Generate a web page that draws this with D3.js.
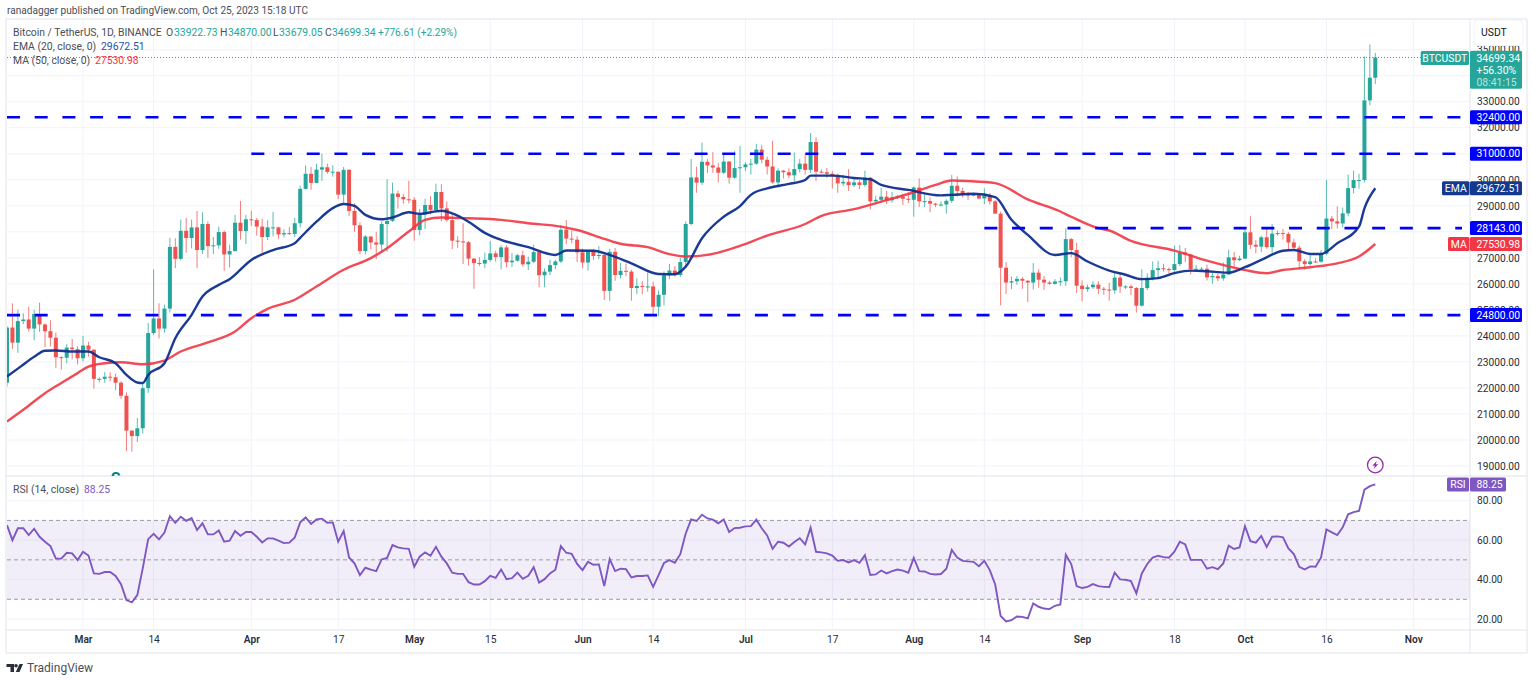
<!DOCTYPE html>
<html>
<head>
<meta charset="utf-8">
<script src="https://cdn.jsdelivr.net/npm/d3@7"></script>
<style>
html, body { margin: 0; background: #fff; overflow: hidden; }
svg { display: block; }
text { font-family: Roboto, sans-serif; font-size: 10.4px; fill: #131722; }
.axis text { font-family: Roboto, sans-serif; font-size: 10.2px; fill: #2a2e39; }
.axis .domain { display: none; }
.grid { stroke: #f0f3fa; stroke-width: 1; }
.frame { stroke: #e0e3eb; stroke-width: 1; }
</style>
</head>
<body>
<svg width="1531" height="680"></svg>
<script>
// daily candles, Feb 15 to Oct 25 2023, one line per month
var opens = [
22200,24320,23740,24570,24630,24280,24840,24440,24180,23930,23180,23160,23550,23490,
23140,23630,23470,22350,22350,22430,22410,22200,21700,20360,20150,20450,21990,24110,24670,24280,25050,27420,26960,28040,27760,28170,27300,28300,27450,27480,27990,27130,27260,28350,28030,
28480,28450,28200,27800,28170,28170,27900,27950,27920,28330,29650,30230,29880,30390,30480,30300,30310,29430,30380,28800,28250,27260,27820,27590,27510,28300,28420,29470,29340,29250,
29230,28070,28670,29030,28840,29530,28900,28450,27660,27630,27600,26970,26800,26780,26920,27170,27030,27400,26830,26890,27100,26750,26850,27220,26330,26470,26720,26860,28080,27740,27700,
27210,26820,27240,27070,27110,25730,27230,26340,26500,26470,25840,25920,25900,25900,25120,25580,26330,26510,26340,26840,28300,30090,29890,30690,30550,30470,30270,30700,30080,30450,
30480,30590,30620,31160,30770,30510,29900,30350,30290,30170,30410,30620,30380,31450,30310,30290,30230,30140,29860,29920,29790,29900,29800,30080,29170,29230,29350,29210,29320,29350,29270,
29230,29700,29170,29180,29080,29040,29050,29190,29770,29570,29430,29400,29420,29280,29410,29170,28700,26620,26050,26100,26190,26120,26050,26430,26160,26050,26000,26090,26100,27720,27300,
25930,25800,25870,25970,25810,25780,25750,26240,25900,25900,25840,25160,25840,26230,26530,26600,26570,26530,26760,27210,27130,26570,26580,26580,26250,26300,26210,26360,27020,26910,
26970,27980,27500,27430,27790,27410,27930,27950,27920,27590,27390,26870,26760,26860,26850,27150,28510,28400,28320,28710,29680,29990,29990,33050,33922.73];
var highs = [
24380,25250,25000,24870,25120,25000,25280,24470,24600,24130,23220,23680,23880,23600,
24000,23770,23480,22410,22610,22600,22550,22260,21830,20370,20840,22180,24500,26550,25250,25200,27770,27750,28470,28530,28470,28800,28750,28400,27800,28200,28040,27500,28650,29190,28650,
28800,28530,28500,28440,28770,28200,28100,28180,28530,29770,30550,30490,30620,31000,30620,30550,30320,30490,30410,29100,28370,27880,27820,28000,28400,30020,29890,29580,29460,29960,
29330,28880,29270,29370,29850,29830,29170,28670,27830,28330,27650,26990,27030,27200,27650,27280,27480,27480,27180,27150,27280,27050,27500,27220,26590,26930,26930,28260,28450,28050,27830,
27350,27300,27340,27450,27130,27350,27380,26800,26780,26540,26210,26100,26430,26080,25750,26480,26770,26680,27000,28400,30800,30500,31430,30800,31060,30650,31000,30710,31100,31300,
30670,30800,31380,31330,30890,31500,30440,30380,30440,31050,30800,30980,31800,31630,30400,30450,30340,30240,30190,30410,30050,29990,30350,30110,29380,29690,29570,29530,29410,29450,29530,
29750,30050,29430,29320,29110,29170,29250,30190,30130,29700,29530,29450,29470,29670,29490,29220,28780,26840,26280,26300,26260,26140,26800,26560,26300,26120,26180,26250,28140,27760,27580,
26130,25970,26100,26100,25880,26040,26440,26430,25950,25980,25880,26560,26400,26860,26890,26770,26630,27470,27490,27380,27160,26730,26640,26740,26450,26400,26820,27310,27230,27080,
28070,28600,27680,27850,28120,28300,28050,28110,27990,27730,27480,26950,27100,26980,27290,30000,28610,28980,28930,30200,30350,30230,34740,35200,34870];
var lows = [
22050,23500,23350,24450,24170,23830,24150,23570,23600,22770,22700,22950,23100,22900,
23020,23200,21970,22210,22200,22250,21920,21580,19570,19550,19920,20250,21810,24030,23900,24120,24900,26600,26900,27200,27360,26600,27150,27000,27150,27350,26500,26630,27240,27700,27530,
28220,27850,27200,27680,27830,27730,27780,27880,27800,28170,29620,29620,29860,29960,30230,30120,29260,29100,28600,28000,27130,27130,27330,26950,27200,27230,28380,28890,29080,29090,
27660,27870,28110,28670,28810,28400,28380,27330,27380,26760,26700,25810,26690,26600,26850,26850,26550,26630,26650,26850,26670,26530,26800,25870,25870,26330,26560,26800,27520,27560,26840,
26600,26510,26920,26950,25380,25350,26120,26200,26290,25350,25600,25600,25700,24800,24760,25170,26180,26280,26260,26650,28250,29500,29800,30260,30270,29900,30220,29850,30040,29500,
30320,30200,30570,30630,30200,29850,29700,30050,30050,29950,30280,30200,30260,29960,30250,30070,29660,29500,29760,29570,29720,29640,29730,28860,29060,29100,29070,29120,29260,29030,29110,
28580,28950,28950,28750,28950,28970,28700,29110,29350,29320,29230,29360,29250,29070,29050,28700,25170,25610,25800,25960,25810,25300,25780,25850,25770,25970,25970,25920,25920,27030,25650,
25330,25700,25800,25600,25580,25350,25620,25650,25800,25570,24900,25130,25760,26130,26220,26470,26400,26380,26680,26830,26360,26490,26520,26130,26000,26100,26120,26340,26660,26880,
26950,27340,27170,27220,27350,27170,27860,27700,27260,27300,26540,26550,26700,26810,26810,27110,28100,28130,28170,28600,29470,29660,29900,32860,33679.05];
var closes = [
24320,23740,24570,24630,24280,24840,24440,24180,23930,23180,23160,23550,23490,23140,
23630,23470,22350,22350,22430,22410,22200,21700,20360,20150,20450,21990,24110,24670,24280,25050,27420,26960,28040,27760,28170,27300,28300,27450,27480,27990,27130,27260,28350,28030,28480,
28450,28200,27800,28170,28170,27900,27950,27920,28330,29650,30230,29880,30390,30480,30300,30310,29430,30380,28800,28250,27260,27820,27590,27510,28300,28420,29470,29340,29250,29230,
28070,28670,29030,28840,29530,28900,28450,27660,27630,27600,26970,26800,26780,26920,27170,27030,27400,26830,26890,27100,26750,26850,27220,26330,26470,26720,26860,28080,27740,27700,27210,
26820,27240,27070,27110,25730,27230,26340,26500,26470,25840,25920,25900,25900,25120,25580,26330,26510,26340,26840,28300,30090,29890,30690,30550,30470,30270,30700,30080,30450,30480,
30590,30620,31160,30770,30510,29900,30350,30290,30170,30410,30620,30380,31450,30310,30290,30230,30140,29860,29920,29790,29900,29800,30080,29170,29230,29350,29210,29320,29350,29270,29230,
29700,29170,29180,29080,29040,29050,29190,29770,29570,29430,29400,29420,29280,29410,29170,28700,26620,26050,26100,26190,26120,26050,26430,26160,26050,26000,26090,26100,27720,27300,25930,
25800,25870,25970,25810,25780,25750,26240,25900,25900,25840,25160,25840,26230,26530,26600,26570,26530,26760,27210,27130,26570,26580,26580,26250,26300,26210,26360,27020,26910,26970,
27980,27500,27430,27790,27410,27930,27950,27920,27590,27390,26870,26760,26860,26850,27150,28510,28400,28320,28710,29680,29990,29990,33050,33922.73,34699.34];

// moving averages: day number since Feb 15, then price
var emaDays = [0,2.5,5,7,9,12,15,17,20,22,24,25,26,29,31,34,36,39,41,45,49,53,54,57,60,62,64,66,69,71,74,76,80,82,85,88,91,96,101,103,108,111,115,120,123,125,128,132,135,137,140,144,147,148,152,156,159,161,166,172,174,178,182,185,188,193,196,199,203,206,209,212,215,218,222,225,228,231,235,237,240,242,245,249,250,252];
var emaValues = [22440,22820,23200,23430,23440,23400,23400,23180,22950,22500,22210,22190,22500,22950,23910,24810,25510,25960,26180,26920,27300,27560,27770,28390,28910,29070,29000,28650,28480,28550,28750,28690,28810,28710,28390,27960,27690,27410,27110,27280,27270,27110,26790,26380,26370,26660,27750,28580,28990,29420,29670,29840,29990,30160,30160,30070,30020,29800,29610,29400,29420,29460,29330,28460,27880,27110,27180,26860,26510,26350,26180,26220,26410,26510,26470,26430,26640,26920,27270,27300,27150,27150,27560,28200,28900,29672.51];
var maDays = [0,3,7,10,13,15,18,21,25,29,32,37,42,45,48,53,57,62,67,70,74,77,80,85,91,96,102,105,110,113,118,122,125,131,135,140,147,150,156,161,167,171,174,177,182,188,194,196,201,203,207,215,221,228,232,235,240,245,249,252];
var maValues = [20710,21160,21800,22190,22570,22820,22950,22990,22910,23050,23400,23750,24170,24680,25040,25390,25900,26540,26990,27370,28010,28460,28550,28520,28460,28330,28200,28070,27730,27540,27410,27140,27050,27200,27460,27850,28300,28610,28870,29160,29520,29800,29970,29950,29870,29250,28780,28580,28140,28050,27650,27280,26890,26530,26410,26530,26640,26790,27050,27530.98];

// RSI(14), one value a day
var rsiValues = [
67.6,60,66,66.1,62.6,65.8,61.7,59.2,57,50.6,50.6,53.6,53.3,49.9,
54.1,52.2,43.1,42.9,43.8,43.8,41.8,37.7,29.6,28.4,32.1,45.7,60.5,63.2,60.4,63.8,72.2,68.8,71.9,69.8,71.2,65.1,68.5,62.9,62.9,64.9,59.2,59.7,64.6,62.2,64.1,
64.1,61.7,58.8,60.9,60.9,59.7,58.5,58.7,61.4,69,71.5,68.2,70.5,70.9,68.8,69,59.2,64.6,51.2,48.2,42.3,46,45,44.3,50.2,51,57.5,56.3,55.8,55.6,
46.5,51.6,53.8,52.1,56.6,51.6,48.2,43.5,42.9,42.9,38.7,37.5,37.5,39.2,41.9,40.9,45.1,40.2,40.7,43.5,40.4,41.9,46.3,38.5,40.2,43.1,45,57,53.6,53.1,47.9,
44.8,49,47.5,47.7,36.7,50.4,44.3,45.5,45.3,41.1,41.8,41.8,42.1,36.3,42.3,48.4,49.9,48.5,52.9,63.4,70.5,69.7,72.9,71,70.4,68.5,70.5,64.1,66.1,66.3,
67,67.1,70.4,66,62.4,55.6,59.2,58.7,56.8,59,61,57.8,66.3,54.1,53.8,53.3,52.2,49.5,49.9,48.7,49.9,48.5,52.4,42.3,42.6,44.6,43.1,44.3,45.1,44.5,43.5,
51,44.3,44.1,42.9,42.6,42.8,45.5,55,51.2,49.5,49.2,49,46.8,49.5,44.8,37.5,21.5,18.8,19.4,21.3,21.1,20.3,27.9,26.2,25.3,25,26.7,27.4,52.6,47.9,36.7,
35.7,36.3,37.7,36.7,36.3,36.2,43.5,40.1,39.9,39.2,33,43.1,47.9,51.1,52.1,51.4,51.1,54.1,59.2,57.8,50,50,50,45.5,46.3,45.3,48.2,57.2,55.5,56.3,
67.1,59.5,58.7,62.1,56.6,61.7,61.9,61.4,55.8,52.9,46.5,45.1,46.7,46.5,51.1,65.4,63.9,62.6,66.5,73.1,74.2,74.8,85.6,87.4,88.25];

// horizontal levels drawn by the author: price, first day
var levelPrices = [32400, 31000, 28143, 24800];
var levelStarts = ["2023-02-15", "2023-04-01", "2023-08-14", "2023-02-15"];

var priceTicks = [35000,34000,33000,32000,31000,30000,29000,28000,27000,26000,25000,24000,23000,22000,21000,20000,19000];
// 34000, 31000 and 28000 sit fully behind tags
var priceLabels = [35000,33000,32000,30000,29000,27000,26000,25000,24000,23000,22000,21000,20000,19000];
var rsiTicks = [80, 60, 40, 20];
var rsiLevels = [70, 50, 30];
var timeTicks = ["2023-03-01","2023-03-14","2023-04-01","2023-04-17","2023-05-01","2023-05-15","2023-06-01","2023-06-14","2023-07-01","2023-07-17","2023-08-01","2023-08-14","2023-09-01","2023-09-18","2023-10-01","2023-10-16","2023-11-01"].map(function(d) { return new Date(d); });

var upColor = "#26a69a", downColor = "#ef5350", emaColor = "#0f2f8f", maColor = "#f23645", rsiColor = "#7e57c2", levelColor = "#0000ff";
var plotLeft = 7, plotRight = 1470, plotTop = 19, paneSplit = 476, plotBottom = 630, outerRight = 1527, outerBottom = 653;

var svg = d3.select("svg");
var startDate = new Date("2023-02-15");
var dates = closes.map(function(c, i) { return d3.utcDay.offset(startDate, i); });

var x = d3.scaleUtc().domain([startDate, new Date("2023-11-01")]).range([7, 1413.3]);
var y = d3.scaleLinear().domain([19000, 33000]).range([466, 101.7]);
var yRsi = d3.scaleLinear().domain([20, 80]).range([619, 500.7]);
function xDay(n) { return x(d3.utcHour.offset(startDate, n * 24)); }

var defs = svg.append("defs");
defs.append("clipPath").attr("id", "pricePane").append("rect")
    .attr("x", plotLeft).attr("y", plotTop).attr("width", plotRight - plotLeft).attr("height", paneSplit - plotTop);
defs.append("clipPath").attr("id", "rsiPane").append("rect")
    .attr("x", plotLeft).attr("y", paneSplit).attr("width", plotRight - plotLeft).attr("height", plotBottom - paneSplit);

// grid
var grid = svg.append("g");
grid.selectAll(".v").data(timeTicks).enter().append("line").attr("class", "grid")
    .attr("x1", function(d) { return x(d); }).attr("x2", function(d) { return x(d); })
    .attr("y1", plotTop).attr("y2", plotBottom);
grid.selectAll(".h").data(priceTicks).enter().append("line").attr("class", "grid")
    .attr("x1", plotLeft).attr("x2", plotRight)
    .attr("y1", function(d) { return y(d); }).attr("y2", function(d) { return y(d); });
grid.selectAll(".r").data(rsiTicks).enter().append("line").attr("class", "grid")
    .attr("x1", plotLeft).attr("x2", plotRight)
    .attr("y1", function(d) { return yRsi(d); }).attr("y2", function(d) { return yRsi(d); });

// frame
var frame = [[6, plotTop, outerRight, plotTop], [6, outerBottom, outerRight, outerBottom], [6, plotTop, 6, outerBottom],
    [outerRight, plotTop, outerRight, outerBottom], [plotRight, plotTop, plotRight, outerBottom], [6, paneSplit, outerRight, paneSplit], [6, plotBottom, outerRight, plotBottom]];
svg.append("g").selectAll("line").data(frame).enter().append("line").attr("class", "frame")
    .attr("x1", function(d) { return d[0]; }).attr("y1", function(d) { return d[1]; })
    .attr("x2", function(d) { return d[2]; }).attr("y2", function(d) { return d[3]; });

// price pane
var pricePane = svg.append("g").attr("clip-path", "url(#pricePane)");

pricePane.append("line")
    .attr("x1", plotLeft).attr("x2", plotRight)
    .attr("y1", y(closes[closes.length - 1])).attr("y2", y(closes[closes.length - 1]))
    .attr("stroke", upColor).attr("stroke-width", 1).attr("stroke-dasharray", "1 2");

var candles = pricePane.append("g").selectAll("g").data(dates).enter().append("g");
function candleColor(d, i) { return closes[i] >= opens[i] ? upColor : downColor; }
candles.append("line")
    .attr("x1", function(d) { return x(d); }).attr("x2", function(d) { return x(d); })
    .attr("y1", function(d, i) { return y(highs[i]); }).attr("y2", function(d, i) { return y(lows[i]); })
    .attr("stroke", candleColor).attr("stroke-width", 1).attr("opacity", 0.75);
candles.append("rect")
    .attr("x", function(d) { return x(d) - 2; }).attr("width", 4)
    .attr("y", function(d, i) { return y(Math.max(opens[i], closes[i])); })
    .attr("height", function(d, i) { return Math.max(1, Math.abs(y(opens[i]) - y(closes[i]))); })
    .attr("fill", candleColor);

var priceLine = d3.line().curve(d3.curveMonotoneX)
    .x(function(d) { return xDay(d[0]); }).y(function(d) { return y(d[1]); });
pricePane.append("path").attr("d", priceLine(d3.zip(maDays, maValues)))
    .attr("fill", "none").attr("stroke", maColor).attr("stroke-width", 2.4).attr("opacity", 0.9);
pricePane.append("path").attr("d", priceLine(d3.zip(emaDays, emaValues)))
    .attr("fill", "none").attr("stroke", emaColor).attr("stroke-width", 2.4).attr("opacity", 0.95);

pricePane.selectAll(".level").data(levelPrices).enter().append("line")
    .attr("x1", function(d, i) { return x(new Date(levelStarts[i])); })
    .attr("x2", function(d) { return d === 31000 ? 1457 : 1462; })
    .attr("y1", function(d) { return y(d); }).attr("y2", function(d) { return y(d); })
    .attr("stroke", levelColor).attr("stroke-width", 2.6).attr("stroke-dasharray", "13 14.7");

// cut-off marker at the foot of the price pane
pricePane.append("text").attr("x", xDay(20)).attr("y", 484).attr("text-anchor", "middle")
    .style("fill", "#00897b").style("font-size", "16px").style("font-weight", 700).text("S");

// rsi pane
var rsiPane = svg.append("g").attr("clip-path", "url(#rsiPane)");
rsiPane.append("rect").attr("x", plotLeft).attr("width", plotRight - plotLeft)
    .attr("y", yRsi(70)).attr("height", yRsi(30) - yRsi(70))
    .attr("fill", rsiColor).attr("opacity", 0.1);
rsiPane.selectAll(".lvl").data(rsiLevels).enter().append("line")
    .attr("x1", plotLeft).attr("x2", plotRight)
    .attr("y1", function(d) { return yRsi(d); }).attr("y2", function(d) { return yRsi(d); })
    .attr("stroke", "#9a9ca3").attr("stroke-width", 1).attr("stroke-dasharray", "4 3");
rsiPane.append("path")
    .attr("d", d3.line().x(function(d, i) { return x(dates[i]); }).y(function(d) { return yRsi(d); })(rsiValues))
    .attr("fill", "none").attr("stroke", rsiColor).attr("stroke-width", 1.9);

// axes
var priceAxis = svg.append("g").attr("class", "axis").attr("transform", "translate(" + plotRight + ",0)")
    .call(d3.axisRight(y).tickValues(priceLabels).tickSize(0).tickPadding(7)
        .tickFormat(function(d) { return d.toFixed(2); }));
var rsiAxis = svg.append("g").attr("class", "axis").attr("transform", "translate(" + plotRight + ",0)")
    .call(d3.axisRight(yRsi).tickValues(rsiTicks).tickSize(0).tickPadding(7)
        .tickFormat(function(d) { return d.toFixed(2); }));
var timeAxis = svg.append("g").attr("class", "axis").attr("transform", "translate(0," + (plotBottom + 3) + ")")
    .call(d3.axisBottom(x).tickValues(timeTicks).tickSize(0).tickPadding(3)
        .tickFormat(function(d) { return d.getUTCDate() === 1 ? d3.utcFormat("%b")(d) : d.getUTCDate(); }));
timeAxis.selectAll("text").style("font-weight", function(d) { return d.getUTCDate() === 1 ? 600 : 400; });

// tags on the price scale
function tag(x0, y0, w, h, color, label, textColor, anchor) {
    svg.append("rect").attr("x", x0).attr("y", y0).attr("width", w).attr("height", h).attr("rx", 1.5).attr("fill", color);
    svg.append("text").attr("x", anchor === "middle" ? x0 + w / 2 : x0 + 6.5).attr("y", y0 + h / 2 + 3.7)
        .attr("text-anchor", anchor || "start").style("fill", textColor || "#fff").text(label);
}
levelPrices.forEach(function(p) {
    tag(plotRight, y(p) - 7, 52, 14, levelColor, p.toFixed(2));
});

// USDT box hides the top tick
svg.append("rect").attr("x", 1474).attr("y", 20).attr("width", 49).attr("height", 25.5).attr("rx", 4)
    .attr("fill", "#fff").attr("stroke", "#f0f3fa");
svg.append("text").attr("x", 1481).attr("y", 36).text("USDT");

tag(1420.7, 51, 48.3, 14, upColor, "BTCUSDT", "#fff", "middle");
svg.append("rect").attr("x", plotRight).attr("y", 50.7).attr("width", 52).attr("height", 38).attr("rx", 1.5).attr("fill", upColor);
svg.append("text").attr("x", plotRight + 6.5).attr("y", 61.5).style("fill", "#fff").text("34699.34");
svg.append("text").attr("x", plotRight + 6.5).attr("y", 73.5).style("fill", "#fff").text("+56.30%");
svg.append("text").attr("x", plotRight + 6.5).attr("y", 85.5).style("fill", "#b9e3de").text("08:41:15");

tag(1442, y(29672.51) - 7, 27.5, 14, "#143a8f", "EMA", "#fff", "middle");
tag(plotRight, y(29672.51) - 7, 52, 14, "#143a8f", "29672.51");
tag(1448, y(27530.98) - 7, 21.5, 14, maColor, "MA", "#fff", "middle");
tag(plotRight, y(27530.98) - 7, 52, 14, maColor, "27530.98");
tag(1447, yRsi(88.25) - 7, 22, 14, rsiColor, "RSI", "#fff", "middle");
tag(plotRight, yRsi(88.25) - 7, 36, 14, rsiColor, "88.25");

// header and legends
function label(px, py, s, color) {
    return svg.append("text").attr("x", px).attr("y", py).style("fill", color || "#4a4e58").text(s);
}
label(7, 13.5, "ranadagger published on TradingView.com, Oct 25, 2023 15:18 UTC", "#4a4e58").style("font-size", "10.1px");
label(13, 36, "Bitcoin / TetherUS, 1D, BINANCE");
label(166, 36, "O"); label(174, 36, "33922.73", upColor);
label(220, 36, "H"); label(228, 36, "34870.00", upColor);
label(273, 36, "L"); label(279, 36, "33679.05", upColor);
label(325, 36, "C"); label(332, 36, "34699.34", upColor);
label(378, 36, "+776.61 (+2.29%)", upColor).style("font-size", "10.1px");
label(13, 50, "EMA (20, close, 0)"); label(101, 50, "29672.51", "#2a4fa8");
label(13, 64, "MA (50, close, 0)"); label(95, 64, "27530.98", maColor);
label(13, 492.5, "RSI (14, close)"); label(84, 492.5, "88.25", rsiColor);

// lightning badge above the last candle
var badge = svg.append("g").attr("transform", "translate(" + x(dates[dates.length - 1]) + ",465)");
badge.append("circle").attr("r", 7.8).attr("fill", "#fff").attr("stroke", "#9c27b0").attr("stroke-width", 1.3);
badge.append("path").attr("d", "M1.5 -4 L-3 0.8 L-0.5 0.8 L-1.5 4 L3 -0.8 L0.5 -0.8 Z").attr("fill", "#9c27b0");

// logo
var logo = svg.append("g").attr("fill", "#2a2e39");
logo.append("path").attr("d", "M6.5 664h7.5v8h-3.5v-5h-4z");
logo.append("circle").attr("cx", 16).attr("cy", 665.8).attr("r", 1.8);
logo.append("path").attr("d", "M19.5 664h3.5l-3.5 8h-3.7z");
svg.append("text").attr("x", 27).attr("y", 672).style("fill", "#4a4e58").style("font-size", "12px").text("TradingView");
</script>
</body>
</html>
